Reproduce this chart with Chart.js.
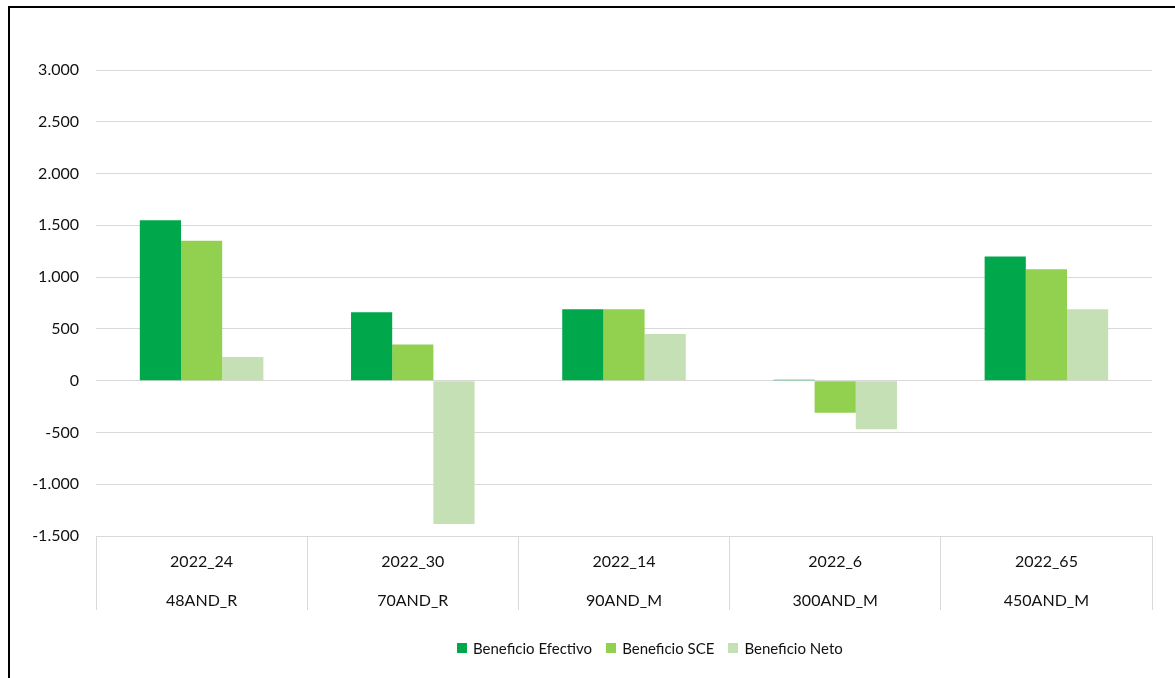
<!DOCTYPE html>
<html>
<head>
<meta charset="utf-8">
<script src="https://cdn.jsdelivr.net/npm/chart.js@4/dist/chart.umd.min.js"></script>
<style>
  html, body { margin: 0; padding: 0; background: #fff; overflow: hidden; }
  #wrap { position: relative; width: 1175px; height: 678px; }
  #frame { position: absolute; left: 8px; top: 6px; width: 2000px; height: 2000px;
           border-left: 2px solid #000; border-top: 2px solid #000; pointer-events: none; }
  #legend { position: absolute; left: 457px; top: 638px; font-family: Lato, sans-serif;
            font-size: 15px; color: #111; white-space: nowrap; }
  #legend span.item { display: inline-flex; align-items: center; margin-right: 14px; }
  #legend span.box { display: inline-block; width: 10px; height: 10px; margin-right: 6px; }
</style>
</head>
<body>
<div id="wrap">
  <canvas id="chart" width="1175" height="678"></canvas>
  <div id="legend"></div>
  <div id="frame"></div>
</div>
<script>
const categories = [
  ["2022_24", "48AND_R"],
  ["2022_30", "70AND_R"],
  ["2022_14", "90AND_M"],
  ["2022_6", "300AND_M"],
  ["2022_65", "450AND_M"]
]
const seriesNames = ["Beneficio Efectivo", "Beneficio SCE", "Beneficio Neto"]
const beneficioEfectivo = [1550, 660, 690, 10, 1200]
const beneficioSCE = [1350, 350, 690, -310, 1075]
const beneficioNeto = [228, -1385, 450, -470, 690]
const seriesColors = ["#00A84B", "#92D050", "#C5E0B4"]

const formatNumber = function(value) {
  const sign = value < 0 ? "-" : ""
  const digits = String(Math.abs(value))
  return sign + digits.replace(/\B(?=(\d{3})+(?!\d))/g, ".")
}

const chart = new Chart(document.getElementById("chart"), {
  type: "bar",
  data: {
    labels: categories,
    datasets: [beneficioEfectivo, beneficioSCE, beneficioNeto].map((values, i) => ({
      label: seriesNames[i],
      data: values,
      backgroundColor: seriesColors[i],
      categoryPercentage: 0.585,
      barPercentage: 1
    }))
  },
  options: {
    responsive: false,
    animation: false,
    layout: { padding: { top: 70, right: 23, bottom: 52, left: 0 } },
    plugins: {
      legend: { display: false },
      tooltip: { enabled: false }
    },
    scales: {
      x: {
        grid: {
          offset: true,
          drawOnChartArea: false,
          drawTicks: true,
          tickLength: 74,
          color: "#d9d9d9"
        },
        border: { display: true, color: "#d9d9d9" },
        ticks: {
          padding: -67,
          color: "#111",
          font: { family: "Lato", size: 16, lineHeight: 2.4 },
          maxRotation: 0
        },
        afterFit: function(scale) { scale.height = 90 }
      },
      y: {
        min: -1500,
        max: 3000,
        grid: { color: "#d9d9d9", drawTicks: false },
        border: { display: false },
        ticks: {
          stepSize: 500,
          padding: 17,
          color: "#111",
          font: { family: "Lato", size: 16 },
          callback: value => formatNumber(value)
        },
        afterFit: function(scale) { scale.width = 96 }
      }
    }
  }
})

const legendHtml = chart.data.datasets.map(ds =>
  '<span class="item"><span class="box" style="background-color:' + ds.backgroundColor + '"></span>' + ds.label + '</span>'
).join("")
document.getElementById("legend").innerHTML = legendHtml
</script>
</body>
</html>
